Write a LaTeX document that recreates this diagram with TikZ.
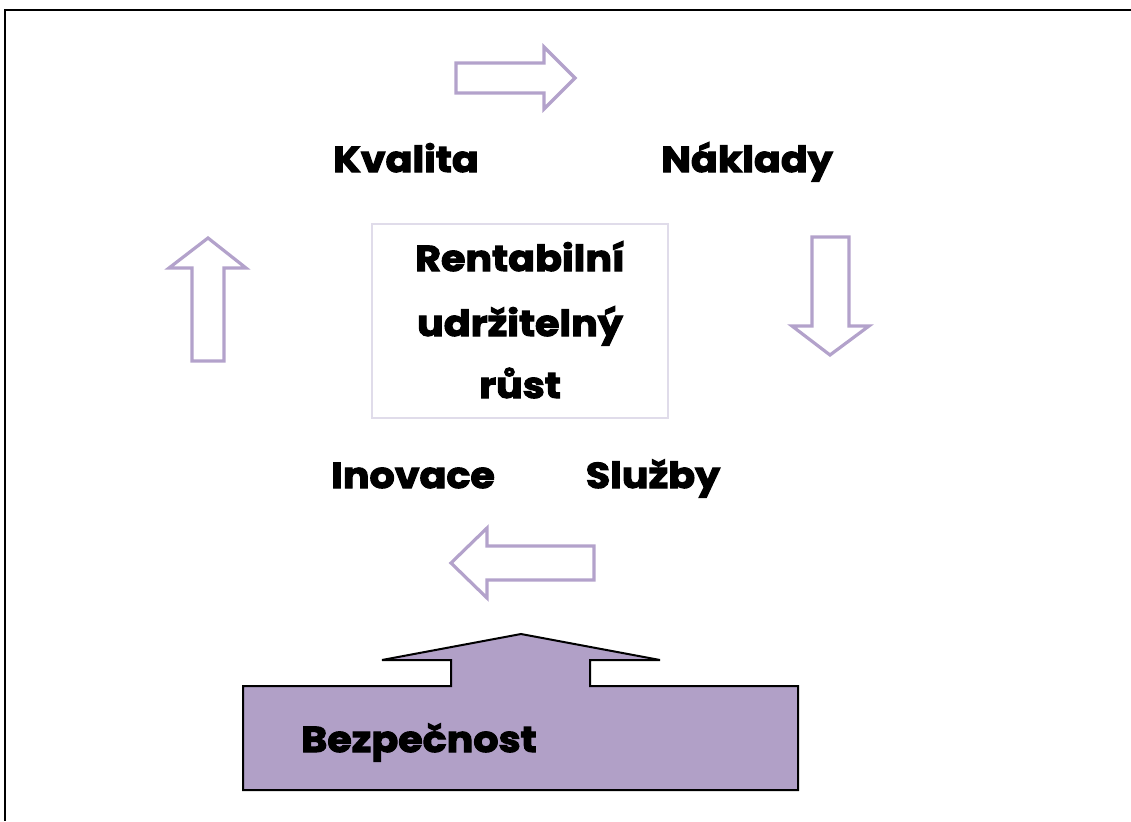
\documentclass[tikz,border=0pt]{standalone}
\usepackage{fontspec}
\setmainfont{Poppins}[UprightFont = * Bold, BoldFont = * Bold, FakeBold = 3, FakeStretch = 1.1]
\definecolor{lavline}{HTML}{B3A2CB}
\definecolor{lavfill}{HTML}{B1A0C7}
\definecolor{boxline}{HTML}{E0DCEA}
\begin{document}
\begin{tikzpicture}[x=0.75pt,y=-0.75pt,
  label/.style={font=\fontsize{27}{32}\selectfont, inner sep=0pt, anchor=base},
  hollowarrow/.style={draw=lavline, line width=2.4pt, fill=white, line join=miter},
  frameline/.style={draw=black, line width=1.5pt}]
\useasboundingbox (0,0) rectangle (1131,821);

% outer frame (top and left edges)
\draw[frameline] (1131,10) -- (5,10) -- (5,821);

% hollow cycle arrows
\draw[hollowarrow] (456,63) -- (544,63) -- (544,47) -- (575,78) -- (544,109) -- (544,93) -- (456,93) -- cycle;
\draw[hollowarrow] (812,237) -- (849,237) -- (849,326) -- (869,326) -- (830,355) -- (792,326) -- (812,326) -- cycle;
\draw[hollowarrow] (594,546) -- (594,580) -- (487,580) -- (487,598) -- (451,563) -- (487,528) -- (487,546) -- cycle;
\draw[hollowarrow] (192,361) -- (192,268) -- (169,268) -- (208,238) -- (246,268) -- (224,268) -- (224,361) -- cycle;

% central box
\draw[boxline, line width=1.6pt] (372,224) rectangle (668,418);
\node[label] (r1) at (520,271) {Rentabilní};
\node[label] (r2) at (520,336) {udržitelný};
\node[label] (r3) at (520,398) {růst};

% corner labels
\node[label] (kval) at (406,172) {Kvalita};
\node[label] (nakl) at (747,172) {Náklady};
\node[label] (inov) at (413,488) {Inovace};
\node[label] (sluz) at (653,488) {Služby};

% base arrow
\draw[fill=lavfill, draw=black, line width=1.5pt, line join=miter]
  (243,686) -- (451,686) -- (451,660) -- (382,660) -- (521,634) -- (660,660)
  -- (590,660) -- (590,686) -- (798,686) -- (798,790) -- (243,790) -- cycle;
\node[label] (bezp) at (419,752) {Bezpečnost};
\end{tikzpicture}
\end{document}
